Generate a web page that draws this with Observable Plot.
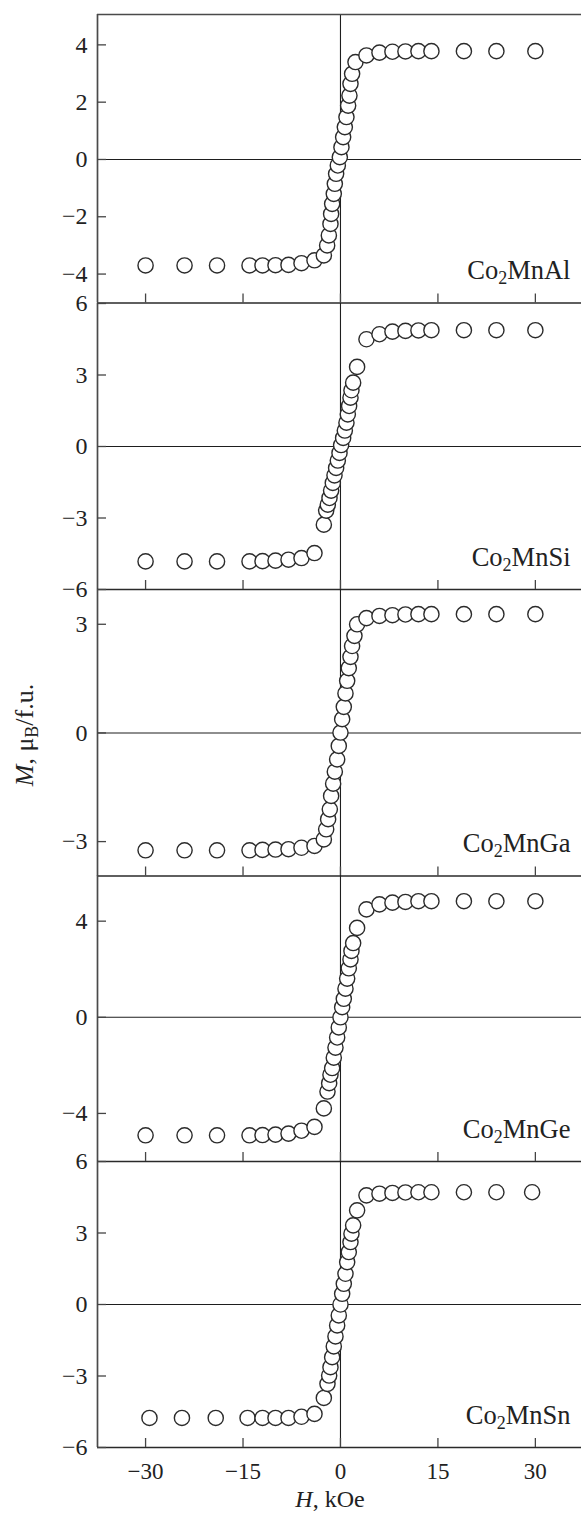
<!DOCTYPE html>
<html>
<head>
<meta charset="utf-8">
<script src="https://cdn.jsdelivr.net/npm/d3@7"></script>
<script src="https://cdn.jsdelivr.net/npm/@observablehq/plot@0.6"></script>
<style>
  html, body { margin: 0; padding: 0; background: white; }
  #chart { position: relative; width: 581px; height: 1513px; overflow: hidden; background: white;
           font-family: "Liberation Serif", "Times New Roman", serif; color: #222; }
  #chart svg { position: absolute; left: 0; }
</style>
</head>
<body>
<div id="chart"></div>
<script>
// ---- data ----
const compounds = ["Co2MnAl", "Co2MnSi", "Co2MnGa", "Co2MnGe", "Co2MnSn"];

const alH = [-30,-24,-19,-14,-12,-10,-8,-6,-4,-2.56,-2.05,-1.79,-1.54,-1.44,-1.28,-1.03,-0.87,-0.67,-0.41,-0.10,0.15,0.41,0.67,0.92,1.18,1.38,1.54,1.79,2.31,4,6,8,10,12,14,19,24,30];
const alM = [-3.70,-3.70,-3.70,-3.70,-3.70,-3.69,-3.68,-3.62,-3.52,-3.35,-3.0,-2.65,-2.25,-1.9,-1.55,-1.2,-0.85,-0.5,-0.21,0.08,0.43,0.78,1.13,1.48,1.88,2.23,2.64,2.99,3.40,3.63,3.73,3.76,3.77,3.78,3.78,3.78,3.78,3.78];

const siH = [-30,-24,-19,-14,-12,-10,-8,-6,-4,-2.56,-2.2,-1.95,-1.69,-1.44,-1.18,-0.92,-0.67,-0.41,-0.15,0.10,0.41,0.67,0.92,1.13,1.33,1.54,1.69,1.95,2.56,4,6,8,10,12,14,19,24,30];
const siM = [-4.82,-4.82,-4.82,-4.82,-4.81,-4.79,-4.75,-4.68,-4.47,-3.28,-2.69,-2.44,-2.16,-1.85,-1.53,-1.21,-0.90,-0.59,-0.27,0.06,0.36,0.67,1.0,1.35,1.70,2.05,2.36,2.68,3.34,4.50,4.71,4.82,4.85,4.87,4.88,4.88,4.88,4.88];

const gaH = [-30,-24,-19,-14,-12,-10,-8,-6,-4,-2.56,-2.2,-1.90,-1.64,-1.44,-1.13,-0.87,-0.51,-0.26,0,0.26,0.51,0.77,1.03,1.28,1.54,1.79,2.15,2.56,4,6,8,10,12,14,19,24,30];
const gaM = [-3.24,-3.24,-3.24,-3.24,-3.23,-3.22,-3.21,-3.17,-3.12,-2.94,-2.66,-2.38,-2.11,-1.74,-1.40,-1.07,-0.73,-0.36,0.01,0.38,0.72,1.09,1.44,1.79,2.10,2.40,2.68,3.0,3.17,3.23,3.25,3.27,3.28,3.28,3.28,3.28,3.28];

const geH = [-30,-24,-19,-14,-12,-10,-8,-6,-4,-2.56,-2.0,-1.74,-1.54,-1.28,-1.03,-0.77,-0.51,-0.26,0,0.26,0.51,0.77,1.03,1.28,1.54,1.69,1.95,2.56,4,6,8,10,12,14,19,24,30];
const geM = [-4.91,-4.91,-4.91,-4.91,-4.90,-4.88,-4.84,-4.72,-4.56,-3.79,-3.09,-2.74,-2.39,-2.11,-1.68,-1.26,-0.84,-0.42,0,0.42,0.77,1.19,1.61,2.04,2.41,2.76,3.09,3.72,4.49,4.70,4.77,4.80,4.83,4.83,4.83,4.83,4.83];

const snH = [-29.4,-24.4,-19.2,-14.3,-12,-10,-8,-6,-4,-2.56,-2.0,-1.74,-1.54,-1.28,-1.03,-0.77,-0.51,-0.26,0,0.26,0.51,0.77,1.03,1.28,1.54,1.69,1.95,2.56,4,6,8,10,12,14,19,24,29.5];
const snM = [-4.76,-4.76,-4.76,-4.76,-4.76,-4.76,-4.76,-4.71,-4.59,-3.92,-3.33,-2.98,-2.63,-2.21,-1.76,-1.34,-0.88,-0.46,0,0.45,0.87,1.29,1.78,2.20,2.62,2.97,3.32,3.95,4.58,4.65,4.68,4.70,4.71,4.71,4.71,4.71,4.71];

const xTicks = [-30, -15, 0, 15, 30];
const yTicksAl = [-4, -2, 0, 2, 4];
const yTicksSi = [-6, -3, 0, 3, 6];
const yTicksGa = [-3, 0, 3];
const yTicksGe = [-4, 0, 4];
const yTicksSn = [-6, -3, 0, 3, 6];

// ---- scales / layout ----
const xDomain = [-37.4, 37.1];
const yDomains = [[-5.01, 5.06], [-6, 6], [-3.95, 3.96], [-6.0, 5.9], [-6, 6]];
const edges = [14, 302.5, 588.5, 875, 1161, 1447];

const series = [
  {H: alH, M: alM, ticks: yTicksAl},
  {H: siH, M: siM, ticks: yTicksSi},
  {H: gaH, M: gaM, ticks: yTicksGa},
  {H: geH, M: geM, ticks: yTicksGe},
  {H: snH, M: snM, ticks: yTicksSn}
];

const fmt = d => (d < 0 ? "\u2212" + Math.abs(d) : String(d));
const FONT = "Liberation Serif, Times New Roman, serif";
const chart = document.getElementById("chart");

// titles overlay
const overlay = d3.create("svg").attr("width", 581).attr("height", 1513)
  .style("top", "0px").style("font-family", FONT).attr("fill", "#222");
const xt = overlay.append("text").attr("x", 330).attr("y", 1507)
  .attr("text-anchor", "middle").attr("font-size", 24);
xt.append("tspan").attr("font-style", "italic").text("H");
xt.append("tspan").text(", kOe");
const yt = overlay.append("text").attr("transform", "translate(33,735) rotate(-90)")
  .attr("text-anchor", "middle").attr("font-size", 26);
yt.append("tspan").attr("font-style", "italic").text("M");
yt.append("tspan").text(", \u03bc");
yt.append("tspan").attr("font-size", 18).attr("dy", 5).text("B");
yt.append("tspan").attr("dy", -5).text("/f.u.");
chart.appendChild(overlay.node());

series.forEach((s, i) => {
  const first = i === 0, last = i === series.length - 1;
  const mt = first ? edges[0] : 20;
  const mb = last ? 66 : 20;
  const ph = edges[i + 1] - edges[i];
  const yDomain = yDomains[i];
  const data = s.H.map((h, j) => ({h, m: s.M[j]}));
  const svg = Plot.plot({
    width: 581,
    height: ph + mt + mb,
    marginLeft: 97, marginRight: 0, marginTop: mt, marginBottom: mb,
    style: {overflow: "visible", background: "transparent", fontFamily: FONT, color: "#222"},
    x: {domain: xDomain, axis: null},
    y: {domain: yDomain, axis: null},
    marks: [
      Plot.ruleY([0], {stroke: "#1e1e1e", strokeWidth: 1.1}),
      Plot.ruleX([0], {stroke: "#1e1e1e", strokeWidth: 1.1}),
      Plot.ruleX([xDomain[0]], {stroke: "#4a4a4a", strokeWidth: 1.7}),
      Plot.ruleY([yDomain[0]], {stroke: "#2a2a2a", strokeWidth: 1.4}),
      first ? Plot.ruleY([yDomain[1]], {stroke: "#4a4a4a", strokeWidth: 1.4}) : null,
      Plot.axisY(s.ticks, {tickSize: -9, tickFormat: () => "", stroke: "#444", strokeWidth: 1.3, label: null}),
      Plot.axisY(s.ticks, {tickSize: 0, tickPadding: 10, tickFormat: fmt, fontSize: 24, color: "#222", label: null}),
      Plot.axisX(xTicks, {anchor: "bottom", tickSize: -9, tickFormat: () => "", stroke: "#444", strokeWidth: 1.3, label: null}),
      last ? Plot.axisX(xTicks, {anchor: "bottom", tickSize: 0, tickPadding: 15, tickFormat: fmt, fontSize: 23, color: "#222", label: null}) : null,
      Plot.dot(data, {x: "h", y: "m", r: 7.6, fill: "white", stroke: "#2b2b2b", strokeWidth: 1.4}),
      Plot.text([compounds[i]], {frameAnchor: "bottom-right", dx: -11, dy: -32, textAnchor: "end", lineAnchor: "middle", fontSize: 26.5, fill: "#222"})
    ]
  });
  svg.style.top = (edges[i] - mt) + "px";
  // subscript the "2" in the compound name
  d3.select(svg).selectAll("text").filter(function () { return this.textContent === compounds[i]; }).each(function () {
    const el = d3.select(this);
    const str = el.text();
    el.text(null);
    el.append("tspan").text(str.slice(0, 2));
    el.append("tspan").attr("font-size", 18).attr("dy", 5).text(str.slice(2, 3));
    el.append("tspan").attr("dy", -5).text(str.slice(3));
  });
  chart.appendChild(svg);
});
</script>
</body>
</html>
